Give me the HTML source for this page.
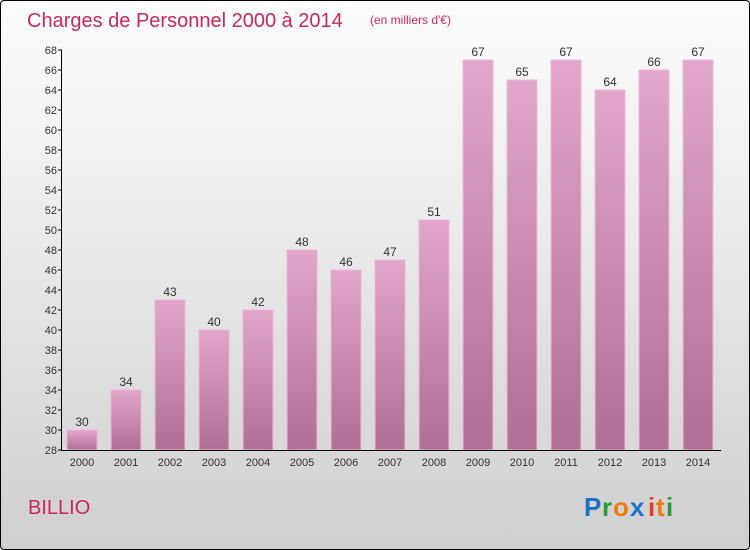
<!DOCTYPE html>
<html><head><meta charset="utf-8"><style>
html,body{margin:0;padding:0;}
body{width:750px;height:550px;overflow:hidden;font-family:"Liberation Sans",sans-serif;}
#frame{position:absolute;left:0;top:0;width:748px;height:548px;border:1px solid #000;border-radius:4px;background:linear-gradient(#fcfcfc,#f0f0f0 30%,#cfcfcf);}
</style></head><body>
<div id="frame"></div>
<svg width="750" height="550" style="position:absolute;left:0;top:0">
<defs><linearGradient id="bg" x1="0" y1="0" x2="0" y2="1"><stop offset="0" stop-color="#e3a6cb"/><stop offset="1" stop-color="#ad6f93"/></linearGradient></defs>
<text x="27" y="27" font-size="20" fill="#c8275f">Charges de Personnel 2000 à 2014</text>
<text x="370" y="24" font-size="12" fill="#c8275f">(en milliers d'€)</text>
<text x="28" y="514" font-size="20" fill="#c8275f">BILLIO</text>
<g font-size="26" font-weight="bold">
<text x="584" y="516" fill="#1a73c8">P</text><text x="602" y="516" fill="#2a9a3a">r</text><text x="613" y="516" fill="#f07a10">o</text><text x="630" y="516" fill="#1a73c8">x</text><text x="648" y="516" fill="#e0402a">i</text><text x="656" y="516" fill="#f07a10">t</text><text x="666" y="516" fill="#2a9a3a">i</text></g>
<g id="plot"></g>
</svg>
<script>
const years=["2000","2001","2002","2003","2004","2005","2006","2007","2008","2009","2010","2011","2012","2013","2014"];
const values=[30,34,43,40,42,48,46,47,51,67,65,67,64,66,67];
const yTicks=[28,30,32,34,36,38,40,42,44,46,48,50,52,54,56,58,60,62,64,66,68];
const yMin=28,yMax=68,yTop=50,yBot=450;
const sy=v=>yBot-(v-yMin)/(yMax-yMin)*(yBot-yTop);
const sx=i=>82+i*44;
const NS="http://www.w3.org/2000/svg";
const g=document.getElementById('plot');
function mk(t,a){const e=document.createElementNS(NS,t);for(const k in a)e.setAttribute(k,a[k]);g.appendChild(e);return e;}
values.forEach((v,i)=>{
 const r=mk('rect',{x:sx(i)-15,y:sy(v),width:30,height:yBot-sy(v),fill:'url(#bg)',stroke:'#eab8d6','stroke-width':1});
 
 
 const t=mk('text',{x:sx(i),y:sy(v)-4,'font-size':12,'text-anchor':'middle',fill:'#333'});
 t.textContent=v;
 
 
 const xl=mk('text',{x:sx(i),y:466,'font-size':11,'text-anchor':'middle',fill:'#333'});
 xl.textContent=years[i];
 
 
});
yTicks.forEach(v=>{
 mk('line',{x1:58,x2:62,y1:sy(v),y2:sy(v),stroke:'#000'});
 const t=mk('text',{x:57,y:sy(v)+4,'font-size':11,'text-anchor':'end',fill:'#333'});
 t.textContent=v;
 
 
});
const ya=mk('line',{x1:61.5,x2:61.5,y1:yTop,y2:yBot,stroke:'#000'});


const xa=mk('line',{x1:61,x2:721,y1:yBot+0.5,y2:yBot+0.5,stroke:'#000'});


</script>
</body></html>
